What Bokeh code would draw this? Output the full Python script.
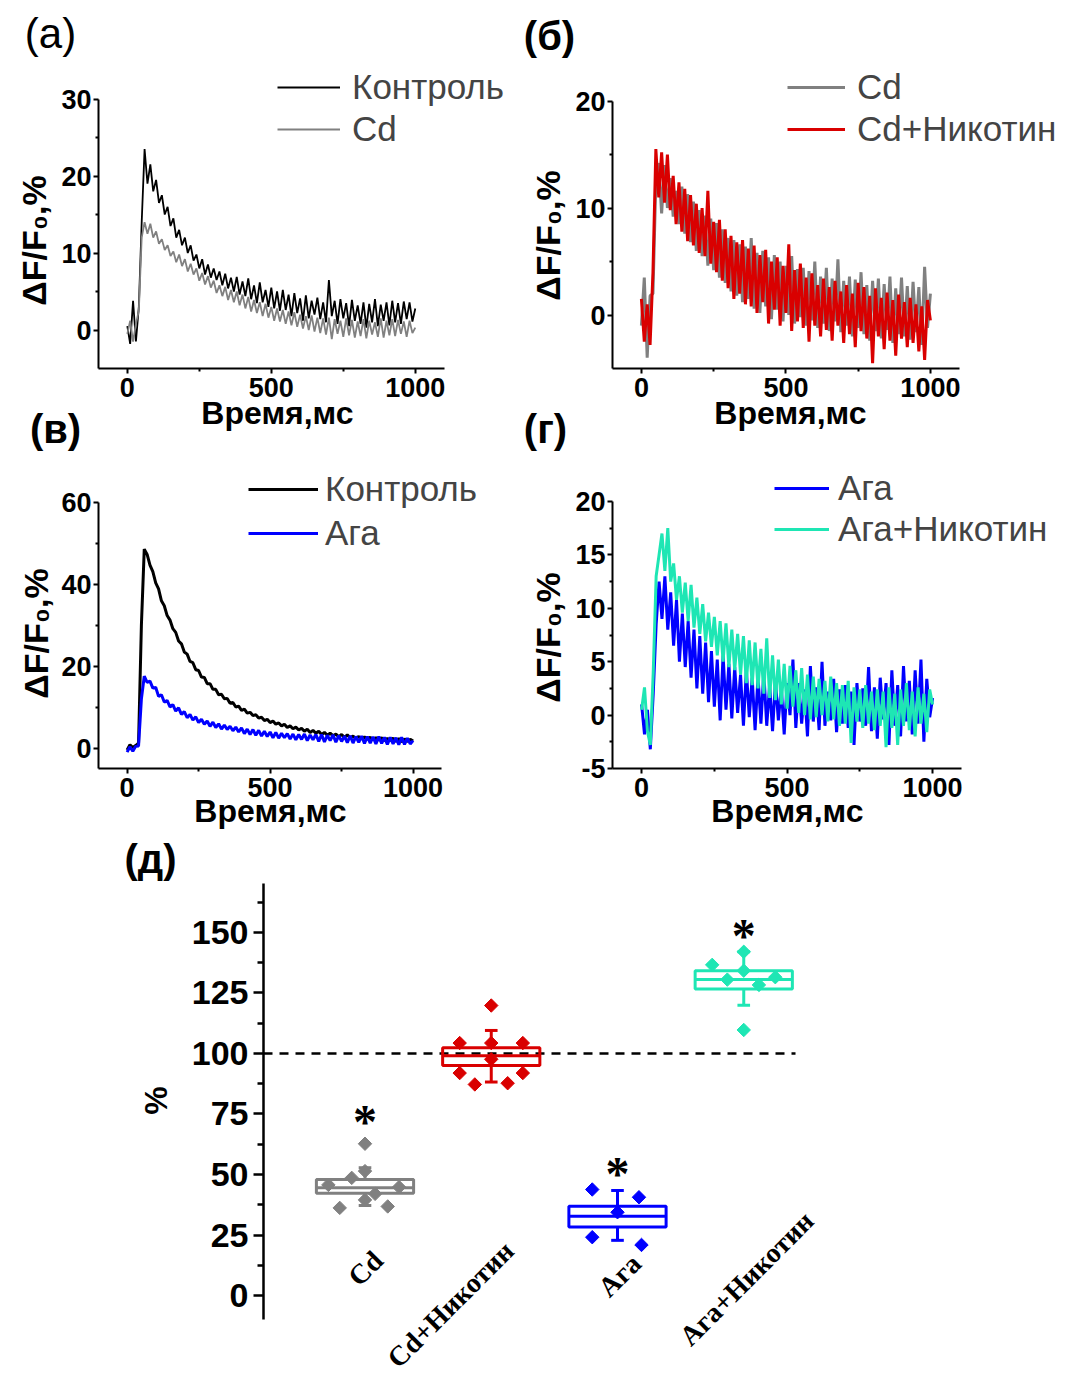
import numpy as np
from bokeh.plotting import figure
from bokeh.layouts import column, row
from bokeh.models import Range1d, FixedTicker, Label, Legend, LegendItem, PrintfTickFormatter
from bokeh.embed import file_html
from bokeh.resources import INLINE

# ---------------- data ----------------
time_ms = np.arange(0, 1001, 10)

# panel (a)
ctrl_a = [0.5, -1.8, 3.8, -1.5, 3.0, 14.0, 23.5, 19.0, 21.5, 18.0,
          19.5, 16.5, 17.5, 15.0, 16.0, 13.5, 14.5, 12.0, 13.0, 11.0,
          12.0, 10.0, 11.0, 9.0, 9.8, 8.0, 9.2, 7.2, 8.5, 6.8,
          8.0, 6.5, 7.6, 5.8, 7.3, 5.4, 6.8, 5.0, 6.9, 4.6,
          6.3, 4.4, 6.7, 4.0, 5.8, 3.5, 6.2, 3.6, 5.2, 3.0,
          5.5, 2.8, 5.0, 2.5, 5.2, 2.6, 4.6, 1.8, 4.8, 2.2,
          4.1, 1.2, 4.5, 1.5, 3.8, 2.0, 4.2, 1.4, 3.6, 1.0,
          6.5, 1.8, 3.8, 0.8, 4.0, 1.5, 3.5, 0.5, 3.9, 1.2,
          3.2, 0.8, 3.6, 0.3, 3.4, 1.0, 4.0, 0.5, 3.3, 1.2,
          3.6, 0.6, 3.8, 1.0, 3.5, 0.8, 3.7, 1.4, 3.6, 1.1, 2.8]
cd_a = [-0.5, 1.2, -1.5, 0.8, 2.5, 12.0, 14.0, 12.5, 13.8, 12.0,
        12.8, 11.2, 11.8, 10.4, 11.0, 9.6, 10.2, 8.8, 9.8, 8.3,
        9.2, 7.6, 8.6, 7.2, 8.0, 6.4, 7.4, 5.9, 7.0, 5.5,
        6.4, 4.8, 5.8, 4.4, 5.6, 3.9, 5.2, 3.6, 5.0, 3.2,
        4.6, 2.8, 4.3, 2.4, 3.9, 2.2, 3.6, 1.8, 3.4, 1.6,
        3.0, 1.2, 2.8, 1.1, 2.6, 0.8, 2.4, 0.6, 2.3, 0.4,
        2.0, 0.2, 1.8, 0.0, 1.9, -0.2, 1.6, -0.4, 1.5, -0.6,
        1.6, -1.2, 1.4, -0.5, 1.2, -0.9, 1.5, -0.7, 1.3, -1.0,
        1.1, -0.8, 1.4, -1.1, 1.2, -0.6, 1.0, -0.9, 1.5, -1.0,
        1.2, -0.7, 1.4, -0.8, 1.3, -0.5, 1.1, -0.9, 1.2, -0.4, 0.3]

# panel (б)
cd_b = [-1.0, 3.5, -4.0, 1.8, 2.0, 12.5, 14.2, 9.5, 14.0, 10.0,
        12.8, 9.2, 11.6, 8.5, 12.0, 7.6, 11.3, 6.8, 10.6, 6.0,
        9.8, 5.5, 9.3, 4.6, 9.0, 4.2, 8.6, 3.5, 8.0, 3.0,
        7.2, 2.2, 7.0, 1.8, 6.6, 1.2, 6.4, 1.5, 7.2, 0.6,
        5.8, 0.2, 6.0, 0.8, 5.4, -0.4, 5.6, 0.5, 5.0, -0.6,
        4.6, 0.0, 5.5, -0.8, 4.3, -0.2, 4.4, -1.0, 4.1, -0.5,
        5.0, -1.2, 3.6, -0.8, 4.4, -1.5, 3.4, -0.6, 5.2, -1.6,
        3.2, -1.0, 3.6, -2.0, 3.3, -1.2, 4.0, -1.8, 2.8, -2.4,
        3.2, -1.5, 3.4, -2.2, 2.9, -1.4, 3.6, -2.6, 2.5, -1.8,
        3.5, -2.0, 2.7, -2.3, 3.1, -1.6, 2.6, -2.8, 4.5, -1.2, 2.0]
cd_nic_b = [1.5, -2.5, 1.0, -2.8, 4.0, 15.5, 11.0, 15.2, 10.5, 15.0,
            9.8, 13.0, 8.5, 12.4, 7.8, 11.8, 6.9, 11.2, 6.5, 10.4,
            5.8, 10.0, 5.5, 11.6, 4.8, 8.7, 4.0, 8.9, 3.2, 8.0,
            2.5, 7.4, 1.5, 6.8, 2.0, 7.0, 1.0, 6.2, 0.8, 6.5,
            0.2, 5.6, 1.2, 6.1, -0.8, 5.0, 0.5, 5.4, -1.0, 4.6,
            0.2, 6.6, -1.5, 4.2, -0.6, 4.8, -1.2, 3.5, -2.5, 3.9,
            -1.0, 2.8, -2.0, 3.4, -1.4, 2.6, -2.4, 3.2, -1.0, 2.2,
            -2.6, 2.8, -1.8, 2.0, -3.0, 3.0, -1.5, 2.6, -2.2, 1.8,
            -4.5, 2.5, -2.0, 1.6, -3.2, 2.1, -2.4, 1.4, -3.8, 1.9,
            -2.2, 1.2, -3.0, 1.6, -2.6, 1.0, -3.4, 0.8, -4.2, 1.4, -0.5]

# panel (в)
ctrl_v = [-0.5, 0.8, 0.1, 0.6, 1.2, 30.0, 48.5, 47.2, 44.6, 43.0,
          40.3, 38.8, 35.9, 34.7, 32.3, 31.2, 29.1, 28.2, 26.1, 25.4,
          23.4, 22.9, 21.1, 20.8, 19.1, 18.9, 17.3, 17.2, 15.7, 15.7,
          14.3, 14.3, 13.0, 13.1, 12.0, 12.1, 10.9, 11.1, 10.0, 10.2,
          9.2, 9.5, 8.5, 8.7, 7.9, 8.1, 7.3, 7.5, 6.7, 7.0,
          6.2, 6.6, 5.8, 6.1, 5.4, 5.8, 5.0, 5.4, 4.7, 5.1,
          4.4, 4.8, 4.1, 4.6, 3.8, 4.3, 3.6, 4.1, 3.3, 3.8,
          3.1, 3.6, 3.0, 3.4, 2.7, 3.3, 2.6, 3.2, 2.5, 2.9,
          2.3, 2.8, 2.2, 2.7, 2.1, 2.6, 2.0, 2.5, 1.9, 2.5,
          1.8, 2.3, 1.8, 2.4, 1.6, 2.3, 1.5, 2.2, 1.6, 2.1, 1.7]
aga_v = [-1.0, 0.3, -0.8, 0.4, 0.5, 12.0, 17.5, 16.0, 16.3, 14.6,
         14.8, 12.6, 13.0, 11.2, 11.6, 10.0, 10.6, 9.0, 9.8, 8.2,
         8.9, 7.4, 8.2, 6.8, 7.6, 6.2, 7.0, 5.8, 6.6, 5.3,
         6.3, 5.0, 5.9, 4.6, 5.6, 4.5, 5.3, 4.2, 5.1, 3.9,
         4.9, 3.5, 4.6, 3.3, 4.5, 3.1, 4.3, 2.9, 4.1, 2.8,
         3.9, 2.5, 3.8, 2.4, 3.6, 2.5, 3.5, 2.2, 3.4, 2.0,
         3.3, 2.1, 3.4, 1.8, 3.2, 2.0, 3.3, 1.6, 3.3, 1.5,
         3.1, 1.8, 3.2, 1.4, 3.0, 1.6, 2.9, 1.3, 3.0, 1.2,
         2.8, 1.4, 2.9, 1.1, 2.8, 1.2, 2.7, 1.0, 2.8, 1.1,
         2.6, 0.9, 2.6, 1.0, 2.5, 0.8, 2.6, 0.9, 2.4, 1.0, 1.8]

# panel (г)
aga_g = [1.0, -1.8, 0.5, -3.2, 2.0, 8.5, 12.5, 9.0, 13.0, 8.0,
         11.5, 6.5, 10.8, 5.0, 9.5, 4.5, 8.8, 3.5, 8.0, 2.5,
         7.4, 2.0, 6.8, 1.2, 6.0, 0.8, 5.2, -0.5, 5.6, 0.5,
         4.8, -0.3, 4.5, 0.2, 3.8, -1.0, 4.2, -0.2, 3.5, -1.4,
         3.6, -0.8, 4.0, -1.0, 2.8, -1.5, 3.2, -0.5, 2.6, -1.8,
         3.0, 0.0, 5.2, -1.2, 3.0, -0.8, 2.4, -2.0, 4.6, -0.6,
         2.6, -1.4, 5.0, -1.0, 2.2, -0.5, 3.4, -1.6, 2.4, -0.8,
         2.8, -1.2, 2.2, -2.8, 3.0, -0.6, 2.5, -1.0, 4.5, -1.5,
         2.6, -2.2, 3.5, -0.4, 3.0, -2.8, 4.2, -1.0, 2.8, -2.0,
         4.6, -0.6, 3.2, -1.8, 4.2, -0.8, 5.2, -2.5, 3.4, -0.2, 1.6]
aga_nic_g = [0.5, 2.6, -1.5, -2.8, 4.0, 13.0, 15.0, 17.0, 13.5, 17.5,
             12.5, 14.2, 10.8, 13.0, 9.6, 12.4, 8.8, 12.2, 8.2, 11.0,
             7.6, 10.4, 6.9, 9.6, 6.4, 9.2, 5.6, 8.8, 5.0, 8.6,
             4.5, 8.0, 4.2, 7.6, 3.8, 7.4, 3.0, 7.0, 2.8, 6.8,
             2.5, 6.2, 2.0, 7.2, 1.6, 5.6, 1.4, 5.2, 1.0, 4.8,
             0.6, 4.6, 0.8, 4.2, 0.2, 4.4, 0.0, 3.8, -0.4, 3.6,
             -0.2, 3.4, 0.0, 3.2, -0.6, 3.6, -0.4, 3.0, -1.0, 2.8,
             -0.8, 3.2, -2.6, 2.6, -0.6, 2.4, -1.2, 2.8, -0.8, 2.2,
             -1.4, 2.4, -1.0, 2.2, -3.0, 2.6, -1.2, 2.0, -2.8, 2.4,
             -1.0, 3.0, -1.4, 2.2, -2.0, 2.6, -0.8, 2.0, -1.6, 2.4, 1.0]

# panel (д)
cats = ["Cd", "Cd+Никотин", "Ага", "Ага+Никотин"]
q1 = [42.3, 95.0, 28.3, 126.6]
med = [44.5, 99.0, 32.8, 130.5]
q3 = [47.9, 102.4, 36.9, 134.2]
w_lo = [37.2, 88.2, 22.8, 119.9]
w_hi = [52.8, 109.5, 43.4, 142.0]
pts_val = [[62.7, 51.4, 48.6, 45.7, 44.8, 42.0, 39.5, 36.2, 36.8],
           [119.8, 104.3, 104.3, 104.3, 97.6, 91.9, 91.9, 87.2, 87.7],
           [43.8, 40.6, 34.4, 24.1, 20.9],
           [142.0, 136.6, 134.2, 130.5, 131.5, 128.3, 109.7]]
pts_dx = [[0, 0, -0.105, -0.29, 0.27, 0.08, 0, -0.2, 0.18],
          [0, -0.25, 0, 0.25, 0, -0.25, 0.25, -0.13, 0.13],
          [-0.2, 0.17, 0, -0.2, 0.19],
          [0, -0.25, 0, -0.13, 0.25, 0.12, 0]]
star_cats = [0, 2, 3]
star_y = [72.0, 50.5, 148.8]
ref_level = 100

# ---------------- style ----------------
SANS = "Liberation Sans"
SERIF = "Liberation Serif"
GRAY = "#808080"
RED = "#d90000"
BLUE = "#0000ff"
TEAL = "#1ee6b4"
YT = "ΔF/F₀,%"
XT = "Время,мс"
PI2 = np.pi / 2


class Panel:
    """A figure whose frame fills the whole canvas; axes drawn at fixed locations."""

    def __init__(self, fx, fy, W, H, xr, yr):
        self.fx, self.fy, self.W, self.H = fx, fy, W, H
        p = figure(width=W, height=H, x_range=Range1d(*xr), y_range=Range1d(*yr),
                   output_backend="svg", toolbar_location=None,
                   min_border_left=0, min_border_right=0,
                   min_border_top=0, min_border_bottom=0)
        p.grid.visible = False
        p.outline_line_color = None
        p.background_fill_color = "white"
        p.border_fill_color = "white"
        self.p = p

    def label(self, X, Y, text, size, bold=True, angle=0.0, font=SANS):
        self.p.add_layout(Label(x=X - self.fx, y=self.fy + self.H - Y,
                                x_units="screen", y_units="screen",
                                text=text, text_font=font, text_font_size=size,
                                text_font_style="bold" if bold else "normal",
                                angle=angle, text_align="center", text_baseline="middle",
                                text_color="black"))

    def legend(self, items, X_left, Y_bottom, gw, standoff, spacing):
        lg = Legend(items=[LegendItem(label=t, renderers=[r]) for t, r in items],
                    location=(X_left - self.fx, self.fy + self.H - Y_bottom),
                    orientation="vertical",
                    glyph_width=gw, glyph_height=38, label_height=38,
                    label_standoff=standoff, spacing=spacing, padding=0, margin=0,
                    border_line_alpha=0, background_fill_alpha=0,
                    label_text_font=SANS, label_text_font_size="35px",
                    label_text_baseline="middle")
        self.p.add_layout(lg)


def style_axis(ax, ticks, minor, bounds, loc, fsize, tick_out=5, minor_out=3, standoff=3, lw=2):
    ax.ticker = FixedTicker(ticks=ticks, minor_ticks=minor)
    ax.bounds = bounds
    ax.fixed_location = loc
    ax.axis_line_width = lw
    ax.axis_line_color = "black"
    ax.major_tick_line_width = lw
    ax.minor_tick_line_width = lw
    ax.major_tick_in = 0
    ax.minor_tick_in = 0
    ax.major_tick_out = tick_out
    ax.minor_tick_out = minor_out
    ax.major_label_standoff = standoff
    ax.major_label_text_font = SANS
    ax.major_label_text_font_style = "bold"
    ax.major_label_text_font_size = fsize
    ax.major_label_text_color = "black"
    ax.formatter = PrintfTickFormatter(format="%g")


def trace_panel(fx, fy, W, H, axis_left, kx, axis_bottom, vmin, ky, yticks, yminor, vmax):
    t0 = -100
    xr = (t0 - (axis_left - fx) / kx, t0 + (fx + W - axis_left) / kx)
    yr = (vmin - (fy + H - axis_bottom) / ky, vmin + (axis_bottom - fy) / ky)
    pn = Panel(fx, fy, W, H, xr, yr)
    style_axis(pn.p.xaxis[0], [0, 500, 1000], [250, 750], (-100, 1100), vmin, "27px", standoff=4)
    style_axis(pn.p.yaxis[0], yticks, yminor, (vmin, vmax), t0, "27px", standoff=2)
    return pn


# ---------------- (a) ----------------
A = trace_panel(0, 0, 515, 455, 98, 0.288, 368, -5, 7.7, [0, 10, 20, 30], [5, 15, 25], 30)
ra1 = A.p.line(time_ms, ctrl_a, line_color="black", line_width=1.8)
ra2 = A.p.line(time_ms, cd_a, line_color=GRAY, line_width=1.8)
A.legend([("Контроль", ra1), ("Cd", ra2)], 277, 149, 63, 12, 2)
A.label(50, 33, "(a)", "42px", bold=False)
A.label(33, 240, YT, "34px", angle=PI2)
A.label(277, 412, XT, "32px")
A.label(55, 428, "(в)", "40px")

# ---------------- (б) ----------------
B = trace_panel(515, 0, 555, 455, 612, 0.289, 368, -5, 10.7, [0, 10, 20], [5, 15], 20)
rb1 = B.p.line(time_ms, cd_b, line_color=GRAY, line_width=3)
rb2 = B.p.line(time_ms, cd_nic_b, line_color=RED, line_width=3)
B.legend([("Cd", rb1), ("Cd+Никотин", rb2)], 787, 149, 58, 12, 2)
B.label(549, 35, "(б)", "40px")
B.label(547, 235, YT, "34px", angle=PI2)
B.label(790, 412, XT, "32px")
B.label(545, 428, "(г)", "40px")

# ---------------- (в) ----------------
V = trace_panel(0, 455, 515, 375, 98, 0.286, 768, -5, 4.1, [0, 20, 40, 60], [10, 30, 50], 60)
rv1 = V.p.line(time_ms, ctrl_v, line_color="black", line_width=3)
rv2 = V.p.line(time_ms, aga_v, line_color=BLUE, line_width=3)
V.legend([("Контроль", rv1), ("Ага", rv2)], 248, 553, 70, 7, 4)
V.label(35, 633, YT, "34px", angle=PI2)
V.label(270, 810, XT, "32px")

# ---------------- (г) ----------------
G = trace_panel(515, 455, 555, 375, 612, 0.291, 768, -5, 10.68,
                [-5, 0, 5, 10, 15, 20], [-2.5, 2.5, 7.5, 12.5, 17.5], 20)
rg1 = G.p.line(time_ms, aga_g, line_color=BLUE, line_width=3)
rg2 = G.p.line(time_ms, aga_nic_g, line_color=TEAL, line_width=3)
G.legend([("Ага", rg1), ("Ага+Никотин", rg2)], 774, 549, 55, 9, 1)
G.label(547, 637, YT, "34px", angle=PI2)
G.label(787, 810, XT, "32px")

# ---------------- (д) ----------------
cx0, cdx = 364.5, 126.25          # page x of first category, px per category
x_axis_pos = 1 + (263 - cx0) / cdx
D = Panel(0, 830, 1070, 550, (1 + (0 - cx0) / cdx, 1 + (1070 - cx0) / cdx), (-35.1, 192.1))
pd_ = D.p
pd_.xaxis.visible = False
style_axis(pd_.yaxis[0], [0, 25, 50, 75, 100, 125, 150],
           [12.5, 37.5, 62.5, 87.5, 112.5, 137.5, 162.5], (-10, 170), x_axis_pos, "34px",
           tick_out=10, minor_out=6, standoff=5, lw=2.5)

box_colors = [GRAY, RED, BLUE, TEAL]
xc = np.arange(1, len(cats) + 1)
hw = 0.385
cw = 0.05
pd_.line([x_axis_pos, 4.41], [ref_level, ref_level], line_color="black", line_width=2.5, line_dash="9 7")
pd_.quad(left=xc - hw, right=xc + hw, bottom=q1, top=q3, fill_color=None,
         line_color=box_colors, line_width=3)
pd_.segment(x0=xc - hw, x1=xc + hw, y0=med, y1=med, line_color=box_colors, line_width=3)
pd_.segment(x0=xc, x1=xc, y0=q3, y1=w_hi, line_color=box_colors, line_width=3)
pd_.segment(x0=xc, x1=xc, y0=q1, y1=w_lo, line_color=box_colors, line_width=3)
pd_.segment(x0=xc - cw, x1=xc + cw, y0=w_hi, y1=w_hi, line_color=box_colors, line_width=3)
pd_.segment(x0=xc - cw, x1=xc + cw, y0=w_lo, y1=w_lo, line_color=box_colors, line_width=3)
for i in range(len(cats)):
    xs = [xc[i] + d for d in pts_dx[i]]
    pd_.scatter(xs, pts_val[i], marker="square", angle=np.pi / 4, size=9.5,
                fill_color=box_colors[i], line_color=box_colors[i])
pd_.text(x=[xc[i] for i in star_cats], y=star_y, text=["*"] * len(star_cats),
         text_font=SANS, text_font_style="bold", text_font_size="48px",
         text_align="center", text_baseline="middle", text_color="black")

D.label(150, 858, "(д)", "40px")
D.label(155, 1100, "%", "32px", angle=PI2)
cat_label_pos = [(365, 1268), (450, 1304), (619, 1275), (746, 1278)]
for (X, Y), c in zip(cat_label_pos, cats):
    D.label(X, Y, c, "28px", angle=np.pi / 4, font=SERIF)

layout = column(row(A.p, B.p), row(V.p, G.p), pd_)
open("out.html", "w").write(file_html(layout, INLINE))
